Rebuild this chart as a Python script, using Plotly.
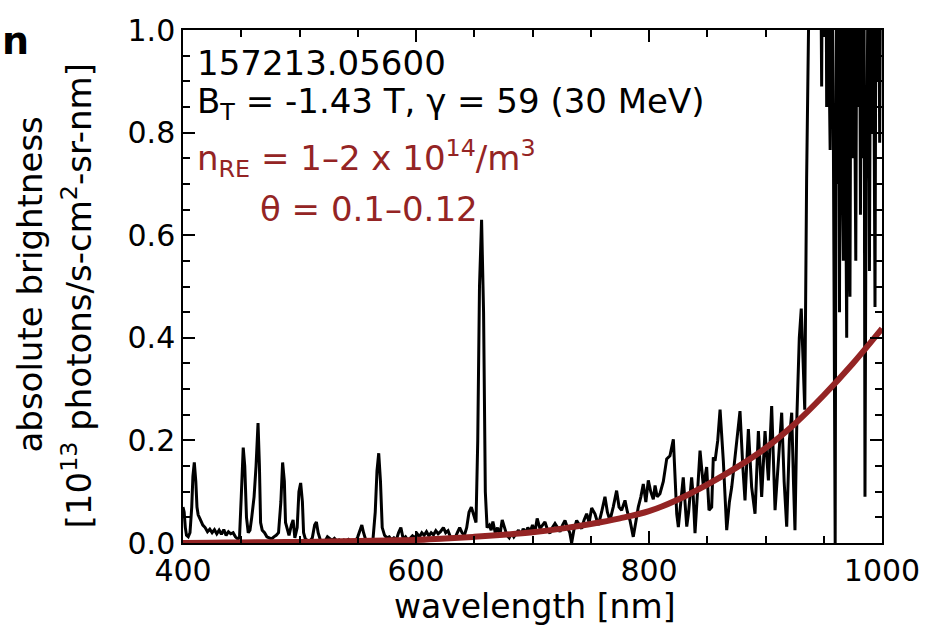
import plotly.graph_objects as go

# ---------------- data ----------------
wavelength_nm = [
    400, 401, 402, 403, 404.5, 406, 407.5, 408.5, 409.7, 411,
    412, 413, 415, 417, 419, 421, 423, 425, 427, 429,
    431, 433, 435, 437, 439, 441, 443, 445, 447, 448.5,
    450, 451.7, 453, 454.5, 456, 457.5, 459, 461, 462.7, 464.4,
    465.6, 466.6, 468, 470, 472, 474, 476, 478, 480, 482,
    484, 485.5, 487, 488, 489.5, 491, 493, 494.5, 496, 498,
    499.5, 501, 502.5, 503.5, 505, 507, 509, 511, 513, 514.5,
    516, 518, 520, 522, 524, 526, 528, 530, 532, 534,
    536, 538, 540, 542, 544, 546, 548, 550, 552, 553.5,
    555, 557, 559, 561, 563, 565, 566.5, 568, 569.5, 571,
    573, 575, 577, 579, 581, 583, 585, 587, 589, 591,
    593, 595, 597, 599, 601, 603, 605, 607, 609, 611,
    613, 615, 617, 619, 621, 623.5, 625.5, 627.5, 629.5, 631.5,
    633.5, 635.5, 637.5, 639.5, 641.5, 643.5, 645.5, 647.5, 649.5, 651.5,
    653, 654.5, 656.3, 658, 659.5, 661, 663, 664.5, 666, 668,
    670, 672, 674, 676, 678, 680, 682, 684, 686, 688,
    690, 692, 694, 696, 698, 700, 702, 704, 706.4, 708.5,
    710.7, 713, 715, 717, 719.3, 721.5, 723.6, 725.8, 727.9, 730,
    732, 733.6, 735.5, 737.9, 740, 742.2, 744.3, 746.5, 748.6, 750.8,
    753.6, 756.5, 759.3, 762.2, 764.3, 766.5, 769.3, 772.2, 774.3, 776.5,
    779.4, 781.5, 783.7, 786.5, 788.6, 790.8, 793, 795.1, 797.3, 799.4,
    801.5, 803.7, 805.2, 807, 809.4, 812.3, 815.2, 818, 820.9, 823.8,
    825.2, 828.1, 829.4, 832.4, 834, 836.6, 838, 839.5, 841.5, 843.8,
    846.7, 849.5, 851.5, 853.8, 855.2, 856.7, 859, 861, 863.8, 866.7,
    869, 871, 873, 875.3, 878.1, 880.5, 882.4, 885.3, 888.1, 891,
    893.9, 896.7, 899.6, 902.5, 905.3, 908.2, 911, 913.9, 916, 918.2,
    920.5, 922.5, 924, 925.3, 927, 929, 930.7, 932.2, 933.7, 935.3,
    937, 939, 942, 945, 947, 948.2, 949.2, 950.5, 951.5, 952.5,
    953.5, 954.5, 955.5, 956.5, 957.5, 958.3, 959.8, 961, 962, 962.8,
    963.5, 964.5, 965.5, 966.8, 967.5, 968.5, 969.7, 970.5, 971.3, 972.5,
    973.5, 974.5, 975.5, 976.5, 977.5, 978.5, 979.5, 980.5, 981.5, 982.5,
    983.5, 984.5, 985.4, 986.3, 987.3, 988.3, 989.2, 990.2, 991.3, 992.5,
    994, 995, 996, 997, 998, 999, 1000,
]
brightness = [
    0.07, 0.06, 0.03, 0.015, 0.012, 0.02, 0.07, 0.13, 0.157, 0.12,
    0.07, 0.055, 0.045, 0.035, 0.03, 0.022, 0.027, 0.02, 0.026, 0.018,
    0.025, 0.017, 0.026, 0.015, 0.022, 0.018, 0.02, 0.012, 0.008, 0.01,
    0.09, 0.186, 0.15, 0.05, 0.02, 0.025, 0.05, 0.09, 0.15, 0.234,
    0.15, 0.04, 0.025, 0.02, 0.012, 0.01, 0.008, 0.012, 0.015, 0.02,
    0.08, 0.157, 0.12, 0.04, 0.025, 0.015, 0.035, 0.045, 0.01, 0.03,
    0.1, 0.117, 0.08, 0.02, 0.008, 0.005, 0.004, 0.01, 0.035, 0.041,
    0.02, 0.005, 0.003, 0.004, 0.012, 0.008, 0.005, 0.009, 0.004, 0.006,
    0.003, 0.006, 0.004, 0.007, 0.003, 0.005, 0.003, 0.012, 0.028, 0.035,
    0.02, 0.005, 0.003, 0.004, 0.005, 0.06, 0.14, 0.175, 0.12, 0.03,
    0.015, 0.01, 0.012, 0.006, 0.01, 0.005, 0.02, 0.03, 0.008, 0.012,
    0.005, 0.009, 0.014, 0.01, 0.018, 0.012, 0.02, 0.015, 0.022, 0.014,
    0.02, 0.016, 0.024, 0.018, 0.022, 0.03, 0.02, 0.024, 0.012, 0.008,
    0.01, 0.02, 0.03, 0.02, 0.015, 0.03, 0.06, 0.07, 0.055, 0.04,
    0.2, 0.5, 0.63, 0.45, 0.1, 0.03, 0.035, 0.025, 0.042, 0.02,
    0.03, 0.015, 0.045, 0.03, 0.015, 0.01, 0.02, 0.012, 0.018, 0.025,
    0.015, 0.028, 0.02, 0.03, 0.022, 0.035, 0.02, 0.048, 0.028, 0.035,
    0.041, 0.025, 0.019, 0.03, 0.038, 0.03, 0.022, 0.035, 0.044, 0.03,
    0.02, 0.0, 0.025, 0.044, 0.035, 0.028, 0.045, 0.057, 0.04, 0.068,
    0.057, 0.035, 0.06, 0.09, 0.06, 0.044, 0.07, 0.102, 0.07, 0.064,
    0.083, 0.06, 0.044, 0.012, 0.04, 0.07, 0.09, 0.115, 0.08, 0.122,
    0.1, 0.085, 0.112, 0.09, 0.096, 0.12, 0.164, 0.17, 0.202, 0.057,
    0.031, 0.109, 0.128, 0.032, 0.06, 0.128, 0.09, 0.019, 0.1, 0.18,
    0.109, 0.148, 0.064, 0.07, 0.167, 0.16, 0.2, 0.26, 0.16, 0.025,
    0.08, 0.109, 0.15, 0.193, 0.257, 0.15, 0.083, 0.222, 0.109, 0.057,
    0.218, 0.09, 0.218, 0.122, 0.267, 0.064, 0.15, 0.254, 0.12, 0.032,
    0.2, 0.254, 0.12, 0.025, 0.25, 0.4, 0.457, 0.35, 0.26, 0.71,
    1.4, 1.8, 1.9, 1.7, 1.3, 0.89, 1.4, 1.0, 1.5, 0.85,
    1.4, 0.95, 0.766, 1.3, 1.0, 0.77, 0.0, 1.3, 0.7, 1.2,
    0.45, 1.25, 0.8, 0.55, 1.2, 0.9, 0.4, 1.1, 0.62, 0.48,
    1.2, 0.75, 1.3, 0.9, 0.55, 1.2, 0.85, 1.3, 0.64, 1.2,
    0.75, 1.2, 0.09, 0.7, 0.88, 1.2, 0.53, 1.1, 0.8, 1.2,
    0.46, 1.3, 0.9, 1.3, 0.78, 1.3, 1.2,
]

model_nm = [400, 425, 450, 475, 500, 525, 550, 575, 600, 625, 650, 675, 700,
            725, 750, 775, 800, 825, 850, 875, 900, 925, 950, 975, 1000]
model_brightness = [0.0, 0.0005, 0.001, 0.0015, 0.002, 0.003, 0.004, 0.005, 0.006,
                    0.009, 0.012, 0.016, 0.021, 0.028, 0.037, 0.048, 0.062, 0.085,
                    0.114, 0.147, 0.185, 0.232, 0.288, 0.35, 0.418]

x_ticks = [400, 600, 800, 1000]
y_ticks = [0.0, 0.2, 0.4, 0.6, 0.8, 1.0]

label_lines = ["157213.05600",
               "B<sub>T</sub> = -1.43 T, γ = 59 (30 MeV)"]
model_lines = ["n<sub>RE</sub> = 1–2 x 10<sup>14</sup>/m<sup>3</sup>",
               "θ = 0.1–0.12"]

# ---------------- figure ----------------
FONT = "DejaVu Sans"
RED = "#942424"
L, R, T, B = 183, 882, 25, 543
W, H = 933, 637


def px(xp):
    return (xp - L) / (R - L)


def py(yp):
    return (B - yp) / (B - T)


fig = go.Figure()
fig.add_trace(go.Scatter(x=wavelength_nm, y=brightness, mode="lines",
                         line=dict(color="black", width=3), showlegend=False))
fig.add_trace(go.Scatter(x=model_nm, y=model_brightness, mode="lines",
                         line=dict(color=RED, width=6, shape="spline"),
                         showlegend=False))

axis_common = dict(showgrid=False, zeroline=False, showline=True, linecolor="black",
                   linewidth=1.5, mirror="ticks", ticks="inside", ticklen=12,
                   tickwidth=1.5, tickcolor="black",
                   tickfont=dict(family=FONT, size=30, color="black"))
fig.update_xaxes(range=[400, 1000], tickvals=x_ticks,
                 minor=dict(dtick=50, ticks="inside", ticklen=7, tickwidth=1.5,
                            tickcolor="black"),
                 **axis_common)
fig.update_yaxes(range=[0, 1.0], tickvals=y_ticks, tickformat=".1f",
                 minor=dict(dtick=0.05, ticks="inside", ticklen=7, tickwidth=1.5,
                            tickcolor="black"),
                 **axis_common)

ann = []
# panel letter
ann.append(dict(text="<b>n</b>", x=px(0), y=py(36), xanchor="left", yanchor="middle",
                font=dict(family=FONT, size=38, color="black")))
# black text
ann.append(dict(text=label_lines[0], x=px(195), y=py(58), xanchor="left", yanchor="middle",
                font=dict(family=FONT, size=34, color="black")))
ann.append(dict(text=label_lines[1], x=px(195), y=py(99), xanchor="left", yanchor="middle",
                font=dict(family=FONT, size=34, color="black")))
# red text
ann.append(dict(text=model_lines[0], x=px(195), y=py(155), xanchor="left", yanchor="middle",
                font=dict(family=FONT, size=34, color=RED)))
ann.append(dict(text=model_lines[1], x=px(258), y=py(206), xanchor="left", yanchor="middle",
                font=dict(family=FONT, size=34, color=RED)))
# axis titles
ann.append(dict(text="wavelength [nm]", x=px(535), y=py(607), xanchor="center",
                yanchor="middle", font=dict(family=FONT, size=33, color="black")))
ann.append(dict(text="absolute brightness", x=px(30), y=py(282), xanchor="center",
                yanchor="middle", textangle=-90,
                font=dict(family=FONT, size=34, color="black")))
ann.append(dict(text="[10<sup>13</sup> photons/s-cm<sup>2</sup>-sr-nm]", x=px(77), y=py(294),
                xanchor="center", yanchor="middle", textangle=-90,
                font=dict(family=FONT, size=34, color="black")))
for a in ann:
    a.update(xref="paper", yref="paper", showarrow=False)

fig.update_layout(width=W, height=H, plot_bgcolor="white", paper_bgcolor="white",
                  margin=dict(l=L, r=W - R, t=T, b=H - B), annotations=ann,
                  font=dict(family=FONT))

fig.write_html("out.html")
